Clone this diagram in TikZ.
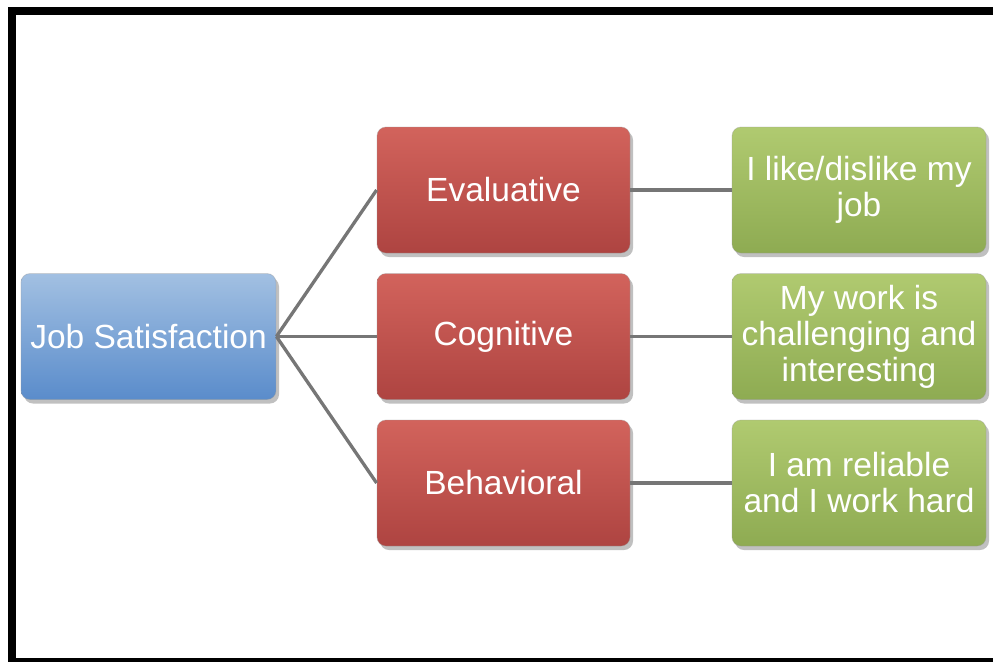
\documentclass[tikz,border=0pt]{standalone}
\usepackage{fontspec}
\setmainfont{Liberation Sans}
\usetikzlibrary{shadows}
\definecolor{bluetop}{HTML}{A2C0E2}
\definecolor{bluebot}{HTML}{5A8CCB}
\definecolor{redtop}{HTML}{D2635C}
\definecolor{redbot}{HTML}{AE4441}
\definecolor{greentop}{HTML}{B0CA70}
\definecolor{greenbot}{HTML}{8EAB52}
\definecolor{linkgray}{HTML}{767676}
\tikzset{
  box/.style={rounded corners=9pt, minimum width=253pt, minimum height=126pt,
    inner sep=0pt, align=center, text=white, draw=white!60!black, draw opacity=0.35,
    line width=0.8pt, font=\fontsize{33.5}{36}\selectfont,
    drop shadow={shadow xshift=3pt, shadow yshift=-4pt, opacity=0.35, fill=black!70}},
  bluebox/.style={box, top color=bluetop, bottom color=bluebot, minimum width=255pt},
  redbox/.style={box, top color=redtop, bottom color=redbot},
  greenbox/.style={box, top color=greentop, bottom color=greenbot, minimum width=254pt},
  link/.style={draw=linkgray, line width=3.3pt}
}
\begin{document}
\begin{tikzpicture}[x=1pt,y=-1pt]
\useasboundingbox (0,0) rectangle (993,662);
\fill[white] (0,0) rectangle (993,662);
% frame
\fill[black] (8,7) rectangle (993,15);
\fill[black] (8,7) rectangle (16,662);
\fill[black] (8,658) rectangle (993,662);
% nodes
\node[bluebox] (js) at (148.5,336.5) {Job Satisfaction};
\node[redbox] (ev) at (503.5,190) {Evaluative};
\node[redbox] (co) at (503.5,336.5) {Cognitive};
\node[redbox] (be) at (503.5,483) {Behavioral};
\node[greenbox] (g1) at (859,190) {I like/dislike my\\job};
\node[greenbox] (g2) at (859,336.5) {My work is\\challenging and\\interesting};
\node[greenbox] (g3) at (859,483) {I am reliable\\and I work hard};
% connectors
\draw[link] (js.east) -- (ev.west);
\draw[link] (js.east) -- (co.west);
\draw[link] (js.east) -- (be.west);
\draw[link] (ev.east) -- (g1.west);
\draw[link] (co.east) -- (g2.west);
\draw[link] (be.east) -- (g3.west);
\end{tikzpicture}
\end{document}
